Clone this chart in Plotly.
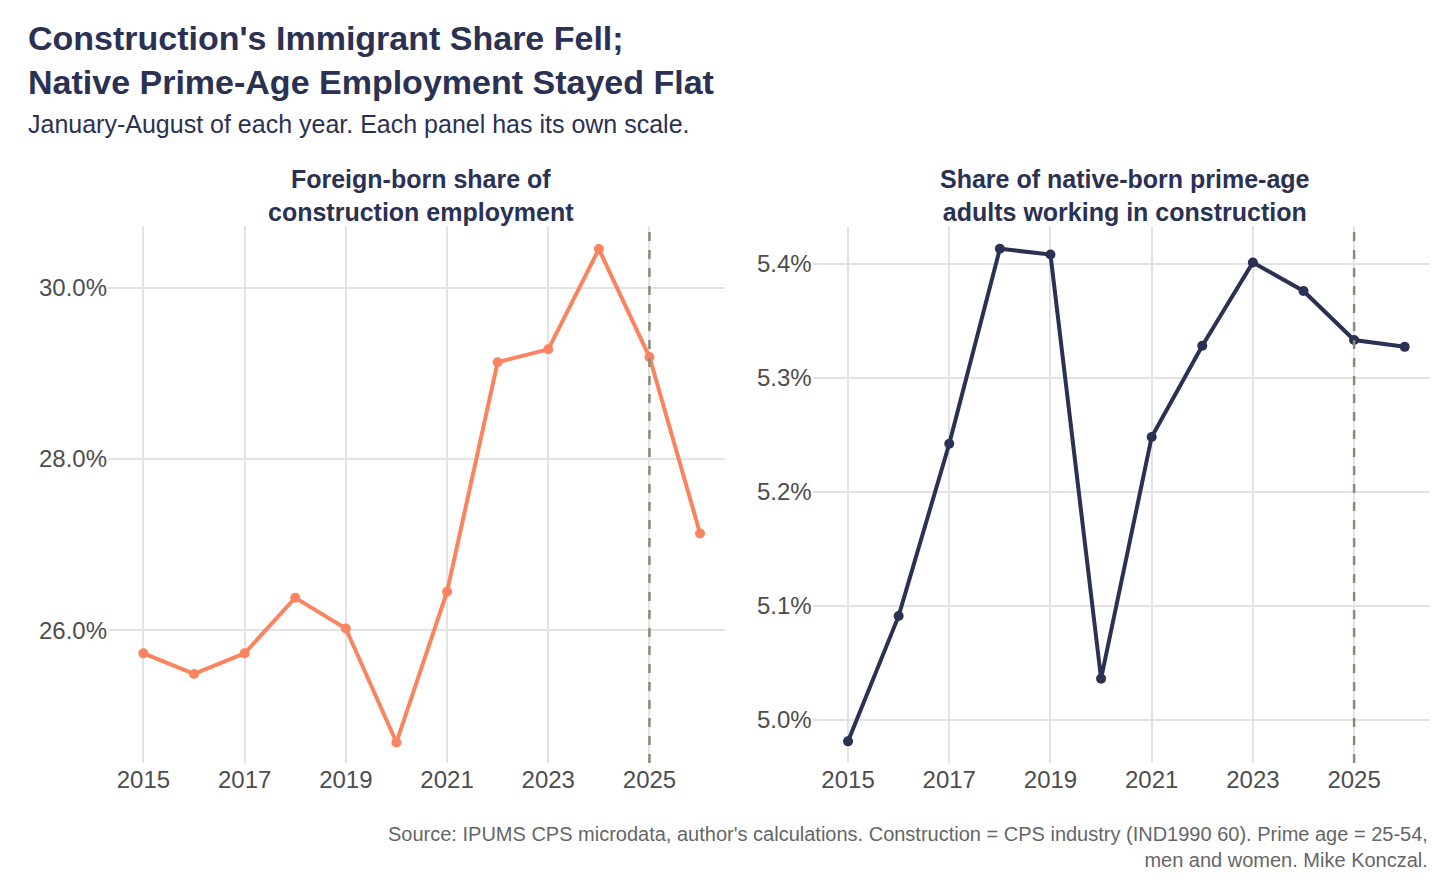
import plotly.graph_objects as go
from plotly.subplots import make_subplots

years = list(range(2015, 2027))
foreign_share = [25.73, 25.49, 25.73, 26.38, 26.02, 24.69, 26.45, 29.13, 29.28, 30.45, 29.19, 27.13]
native_share = [4.981, 5.091, 5.242, 5.413, 5.408, 5.036, 5.248, 5.328, 5.401, 5.376, 5.333, 5.327]
x_ticks = [2015, 2017, 2019, 2021, 2023, 2025]

navy = "#2b3152"
orange = "#f9845f"
font = "Liberation Sans, Arial, sans-serif"

T, B = 218, 125
PH = 880 - T - B

fig = make_subplots(rows=1, cols=2, horizontal_spacing=0.066)
fig.add_trace(go.Scatter(x=years, y=foreign_share, mode="lines+markers",
                         line=dict(color=orange, width=4), marker=dict(size=10, color=orange)), 1, 1)
fig.add_trace(go.Scatter(x=years, y=native_share, mode="lines+markers",
                         line=dict(color=navy, width=4), marker=dict(size=10, color=navy)), 1, 2)

for c in (1, 2):
    fig.add_vline(x=2025, line=dict(color="#8a8a78", width=2.5, dash="dash"), row=1, col=c)

axis_common = dict(showgrid=True, gridcolor="#e3e3e3", gridwidth=1.5, zeroline=False,
                   tickfont=dict(size=24, color="#4d4d4d", family=font), showline=False, ticks="")
fig.update_xaxes(tickvals=x_ticks, range=[2014.3, 2026.5], **axis_common)
fig.update_yaxes(row=1, col=1, tickvals=[26, 28, 30], ticktext=["26.0%", "28.0%", "30.0%"],
                 range=[24.45, 30.72], **axis_common)
fig.update_yaxes(row=1, col=2, tickvals=[5.0, 5.1, 5.2, 5.3, 5.4],
                 ticktext=["5.0%", "5.1%", "5.2%", "5.3%", "5.4%"],
                 range=[4.962, 5.433], **axis_common)

fig.update_layout(
    width=1440, height=880, showlegend=False,
    plot_bgcolor="white", paper_bgcolor="white",
    margin=dict(l=100, r=18, t=T, b=B),
    font=dict(family=font, color=navy),
)


def py(pix):
    return 1 - (pix - T) / PH


def px(pix):
    return (pix - 100) / 1322


ann = [
    dict(text="<b>Construction's Immigrant Share Fell;<br>Native Prime-Age Employment Stayed Flat</b>", x=18, y=52, size=34, color=navy, anchor="left", c="#2b3152"),
    dict(text="January-August of each year. Each panel has its own scale.", x=18, y=116, size=25, color=navy, anchor="left"),
    dict(text="<b>Foreign-born share of<br>construction employment</b>", x=413, y=187, size=25, color=navy, anchor="center"),
    dict(text="<b>Share of native-born prime-age<br>adults working in construction</b>", x=1117, y=187, size=25, color=navy, anchor="center"),
]
for a in ann:
    fig.add_annotation(text=a["text"], xref="paper", yref="paper",
                       x=px(a["x"]), y=py(a["y"]), align=a["anchor"] if a["anchor"] != "center" else "center",
                       xanchor=a["anchor"], yanchor="middle", showarrow=False,
                       font=dict(size=a["size"], color=a["color"], family=font))
fig.add_annotation(text="Source: IPUMS CPS microdata, author's calculations. Construction = CPS industry (IND1990 60). Prime age = 25-54,<br>men and women. Mike Konczal.",
                   xref="paper", yref="paper", x=px(1422), y=py(839), xanchor="right", yanchor="middle",
                   align="right", showarrow=False, font=dict(size=20, color="#666666", family=font))

fig.write_html("out.html")
